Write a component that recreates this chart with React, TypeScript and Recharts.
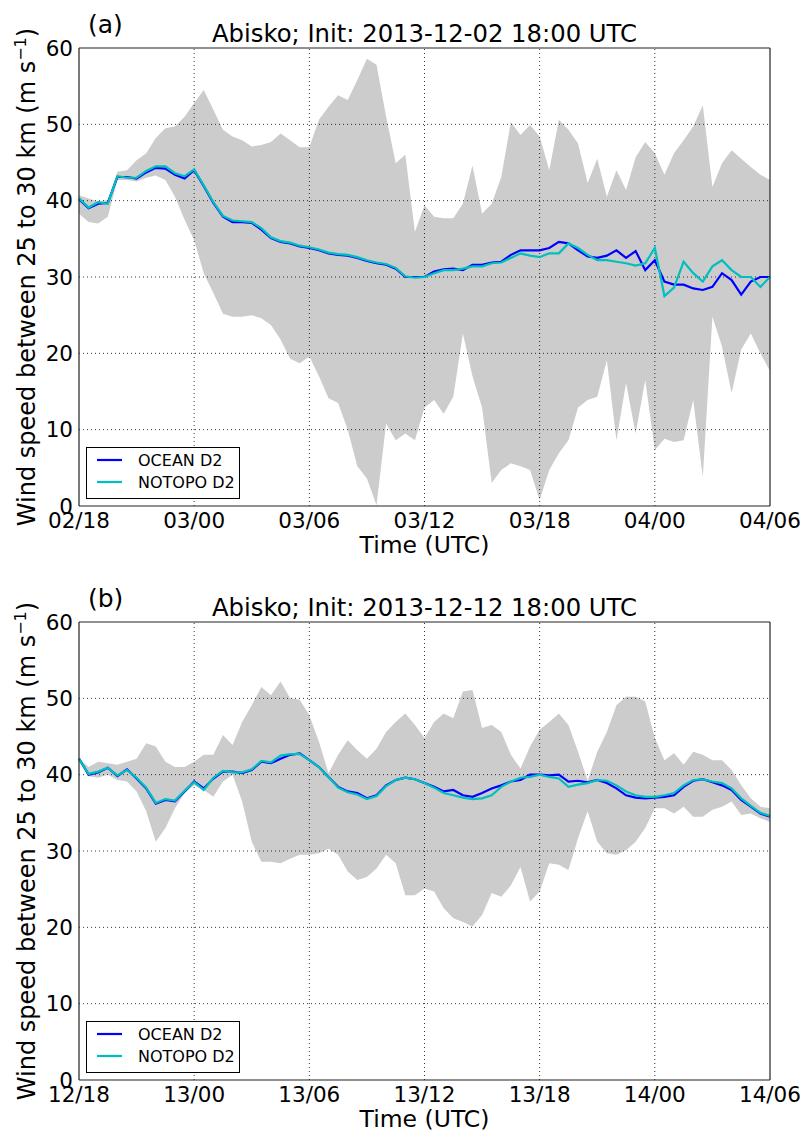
import React from 'react';
import { ComposedChart, Area, Line, XAxis, YAxis, ReferenceLine } from 'recharts';

// Wind speed averaged between 25 and 30 km over Abisko, two forecast runs.
// All series are sampled every half hour from the start of the window (36 h).
const STEP_HOURS = 0.5;

// ---- Panel (a): init 2013-12-02 18:00 UTC ----
const TICKS_A = ['02/18', '03/00', '03/06', '03/12', '03/18', '04/00', '04/06'];

const UPPER_A = [
  40.7, 40.3, 39.9, 40.1, 43.8, 44.0, 45.3, 46.2, 48.2, 49.5, 49.7, 51.0,
  52.8, 54.5, 51.9, 49.3, 48.4, 47.9, 47.1, 47.3, 47.7, 48.8, 47.9, 47.0,
  47.0, 50.6, 52.3, 53.8, 53.2, 55.8, 58.6, 57.8, 51.0, 44.9, 46.0, 35.9,
  39.4, 37.9, 37.7, 37.7, 39.6, 44.6, 38.3, 39.6, 43.1, 50.3, 48.6, 49.9,
  48.4, 44.0, 50.6, 49.3, 47.5, 42.3, 45.5, 40.5, 44.0, 41.4, 45.7, 47.7,
  46.2, 43.4, 46.2, 47.9, 49.7, 52.5, 41.8, 44.9, 46.6, 45.5, 44.4, 43.4,
  42.7,
];

const LOWER_A = [
  38.3, 37.2, 37.0, 37.9, 42.7, 42.7, 42.5, 43.0, 43.3, 42.7, 40.5, 37.5,
  34.8, 30.5, 27.9, 25.2, 24.8, 24.8, 25.0, 24.6, 23.7, 21.8, 19.3, 18.7,
  19.6, 17.0, 14.1, 13.5, 10.0, 5.2, 3.6, 0.1, 10.8, 8.6, 9.5, 8.6,
  12.9, 13.9, 12.1, 14.3, 22.6, 17.0, 12.9, 3.0, 4.7, 5.6, 5.2, 4.7,
  0.8, 4.7, 6.9, 8.6, 12.9, 13.9, 14.3, 19.1, 8.6, 16.1, 9.5, 16.5,
  7.3, 8.8, 8.4, 8.6, 13.9, 3.8, 24.8, 20.9, 14.8, 20.5, 22.6, 20.0,
  17.7,
];

const OCEAN_A = [
  40.2, 39.0, 39.6, 39.7, 43.1, 43.1, 42.9, 43.7, 44.3, 44.2, 43.4, 42.9,
  44.0, 41.9, 39.7, 37.9, 37.2, 37.2, 37.1, 36.2, 35.1, 34.6, 34.4, 34.0,
  33.8, 33.5, 33.1, 32.9, 32.8, 32.5, 32.1, 31.8, 31.6, 31.1, 30.0, 30.0,
  30.0, 30.7, 31.0, 31.1, 30.9, 31.6, 31.6, 31.9, 32.0, 32.9, 33.5, 33.5,
  33.5, 33.8, 34.6, 34.4, 33.5, 32.7, 32.5, 32.8, 33.5, 32.5, 33.4, 30.9,
  32.2, 29.4, 29.0, 29.0, 28.5, 28.3, 28.7, 30.5, 29.6, 27.7, 29.4, 30.0,
  30.0,
];

const NOTOPO_A = [
  40.3, 39.1, 39.8, 39.6, 43.2, 43.0, 43.0, 43.9, 44.5, 44.5, 43.6, 43.2,
  44.1, 42.0, 39.8, 38.0, 37.4, 37.3, 37.2, 36.4, 35.2, 34.7, 34.5, 34.1,
  33.9, 33.6, 33.2, 33.0, 32.9, 32.6, 32.2, 31.9, 31.7, 31.2, 30.1, 29.9,
  30.0, 30.5, 30.9, 30.9, 31.1, 31.4, 31.4, 31.8, 31.9, 32.5, 33.1, 32.8,
  32.6, 33.1, 33.1, 34.4, 33.8, 32.9, 32.2, 32.2, 32.0, 31.8, 31.5, 31.8,
  33.8, 27.5, 28.6, 32.0, 30.5, 29.4, 31.4, 32.2, 30.9, 30.0, 30.0, 28.7,
  30.0,
];

// ---- Panel (b): init 2013-12-12 18:00 UTC ----
const TICKS_B = ['12/18', '13/00', '13/06', '13/12', '13/18', '14/00', '14/06'];

const UPPER_B = [
  42.1, 41.0, 41.7, 41.5, 41.3, 41.7, 42.1, 44.1, 43.7, 41.7, 41.0, 41.0,
  41.7, 42.6, 42.6, 45.2, 43.9, 46.9, 49.1, 51.5, 50.4, 52.2, 50.0, 49.8,
  47.8, 44.3, 40.2, 42.6, 44.5, 43.2, 42.1, 43.4, 45.6, 46.9, 48.0, 46.5,
  44.8, 46.9, 48.0, 47.4, 50.9, 51.1, 46.1, 46.5, 45.6, 42.6, 40.8, 43.7,
  45.9, 46.9, 48.0, 46.5, 43.0, 39.2, 43.0, 45.6, 49.1, 50.2, 50.2, 49.6,
  44.8, 41.9, 42.8, 41.3, 43.0, 42.6, 41.9, 41.9, 40.6, 38.6, 36.9, 35.8,
  35.6,
];

const LOWER_B = [
  42.1, 39.8, 39.6, 40.0, 39.3, 39.1, 37.8, 35.2, 31.2, 33.0, 35.6, 37.6,
  38.6, 38.0, 37.1, 39.1, 40.0, 36.5, 31.2, 28.6, 28.6, 28.4, 29.0, 29.5,
  29.5, 29.7, 30.3, 29.5, 27.3, 26.2, 26.6, 27.7, 29.5, 28.4, 24.2, 24.2,
  25.1, 24.7, 22.5, 21.2, 20.7, 20.1, 21.6, 24.5, 24.0, 25.5, 27.9, 23.4,
  24.7, 28.4, 28.2, 27.5, 31.7, 35.2, 31.2, 29.7, 29.5, 30.1, 31.2, 33.0,
  35.6, 35.6, 34.9, 35.8, 34.5, 34.5, 35.4, 35.8, 36.5, 34.7, 34.9, 34.3,
  33.8,
];

const OCEAN_B = [
  42.1, 40.0, 40.3, 40.9, 39.8, 40.7, 39.5, 38.2, 36.2, 36.7, 36.5, 37.8,
  39.1, 38.2, 39.5, 40.4, 40.4, 40.2, 40.6, 41.7, 41.5, 42.1, 42.6, 42.8,
  41.9, 41.0, 39.7, 38.4, 37.8, 37.6, 36.9, 37.3, 38.6, 39.3, 39.6, 39.4,
  38.9, 38.4, 37.8, 38.0, 37.3, 37.1, 37.6, 38.2, 38.6, 39.1, 39.3, 40.0,
  40.0, 39.9, 40.0, 39.1, 39.2, 39.0, 39.3, 38.9, 38.2, 37.3, 37.0, 36.9,
  37.0, 37.1, 37.3, 38.4, 39.2, 39.4, 39.0, 38.6, 38.0, 36.7, 35.8, 34.9,
  34.5,
];

const NOTOPO_B = [
  42.1, 40.1, 40.4, 40.9, 39.9, 40.6, 39.6, 38.3, 36.3, 36.8, 36.6, 37.9,
  39.0, 38.0, 39.6, 40.5, 40.3, 40.3, 40.7, 41.8, 41.6, 42.5, 42.7, 42.7,
  41.9, 41.0, 39.7, 38.3, 37.7, 37.4, 36.8, 37.2, 38.5, 39.3, 39.6, 39.4,
  38.9, 38.3, 37.6, 37.3, 37.0, 36.8, 36.9, 37.3, 38.4, 39.1, 39.6, 39.7,
  40.0, 39.7, 39.5, 38.4, 38.7, 38.9, 39.3, 39.2, 38.6, 37.8, 37.3, 37.1,
  37.1, 37.3, 37.6, 38.6, 39.3, 39.4, 39.1, 38.9, 38.2, 36.9, 35.9, 35.0,
  34.6,
];

// ---- Shared axis settings ----
const TICK_HOURS = [0, 6, 12, 18, 24, 30, 36];
const Y_TICKS = [0, 10, 20, 30, 40, 50, 60];
const GRID_HOURS = [6, 12, 18, 24, 30];
const GRID_SPEEDS = [10, 20, 30, 40, 50];
const SERIES_NAMES = ['OCEAN D2', 'NOTOPO D2'];

const FONT = '"DejaVu Sans", Verdana, sans-serif';
const BLUE = '#0000ff';
const CYAN = '#00bfbf';
const BAND = '#cccccc';
const FRAME = '#222222';

const W = 804;
const H = 567;
const PLOT_LEFT = 79;
const PLOT_RIGHT = 770;
const PLOT_HEIGHT = 458;
const Y_AXIS_W = 60;
const X_AXIS_H = 40;
const EDGE = 1;

type Row = { t: number; band: [number, number]; ocean: number; notopo: number };

function buildRows(lower: number[], upper: number[], ocean: number[], notopo: number[]): Row[] {
  return ocean.map((v, i) => ({
    t: i * STEP_HOURS,
    band: [lower[i], upper[i]],
    ocean: v,
    notopo: notopo[i],
  }));
}

type PanelProps = {
  tag: string;
  title: string;
  tickLabels: string[];
  rows: Row[];
  plotTop: number;
  top: number;
};

function Panel({ tag, title, tickLabels, rows, plotTop, top }: PanelProps) {
  const plotBottom = plotTop + PLOT_HEIGHT;
  const midX = (PLOT_LEFT + PLOT_RIGHT) / 2;
  const midY = (plotTop + plotBottom) / 2;
  const legendTop = plotBottom - 59;
  const tickStyle = { fill: '#000', fontSize: 21.5, fontFamily: FONT };
  const gridProps = { stroke: '#000', strokeWidth: 0.8, strokeDasharray: '1 3' };
  const frameLine = { stroke: FRAME, strokeWidth: 1.2 };

  return (
    <div style={{ position: 'absolute', left: 0, top, width: W, height: H }}>
      <ComposedChart
        width={W}
        height={H}
        data={rows}
        margin={{
          top: plotTop - EDGE,
          bottom: H - plotBottom - X_AXIS_H,
          left: PLOT_LEFT - Y_AXIS_W,
          right: W - PLOT_RIGHT - EDGE,
        }}
      >
        <XAxis
          dataKey="t"
          type="number"
          domain={[0, 36]}
          ticks={TICK_HOURS}
          interval={0}
          tickFormatter={(v: number) => tickLabels[TICK_HOURS.indexOf(v)]}
          tick={tickStyle}
          tickLine={false}
          tickSize={0}
          tickMargin={7}
          height={X_AXIS_H}
          axisLine={frameLine}
        />
        <XAxis
          xAxisId="top"
          orientation="top"
          type="number"
          domain={[0, 36]}
          tick={false}
          tickLine={false}
          height={EDGE}
          axisLine={frameLine}
        />
        <YAxis
          type="number"
          domain={[0, 60]}
          ticks={Y_TICKS}
          interval={0}
          tick={tickStyle}
          tickLine={false}
          tickSize={0}
          tickMargin={6}
          width={Y_AXIS_W}
          axisLine={frameLine}
        />
        <YAxis
          yAxisId="right"
          orientation="right"
          type="number"
          domain={[0, 60]}
          tick={false}
          tickLine={false}
          width={EDGE}
          axisLine={frameLine}
        />
        <Area
          dataKey="band"
          type="linear"
          fill={BAND}
          fillOpacity={1}
          stroke="none"
          isAnimationActive={false}
        />
        {GRID_HOURS.map((h) => (
          <ReferenceLine key={`gx${h}`} x={h} {...gridProps} />
        ))}
        {GRID_SPEEDS.map((s) => (
          <ReferenceLine key={`gy${s}`} y={s} {...gridProps} />
        ))}
        <Line
          dataKey="ocean"
          name={SERIES_NAMES[0]}
          type="linear"
          stroke={BLUE}
          strokeWidth={2.2}
          dot={false}
          isAnimationActive={false}
        />
        <Line
          dataKey="notopo"
          name={SERIES_NAMES[1]}
          type="linear"
          stroke={CYAN}
          strokeWidth={2.2}
          dot={false}
          isAnimationActive={false}
        />
      </ComposedChart>

      <svg
        width={W}
        height={H}
        style={{ position: 'absolute', left: 0, top: 0, pointerEvents: 'none' }}
        fontFamily={FONT}
      >
        <text x={88} y={plotTop - 15} fontSize={25} fill="#000">
          {tag}
        </text>
        <text x={midX} y={plotTop - 6} fontSize={24.3} textAnchor="middle" fill="#000">
          {title}
        </text>
        <text
          x={35}
          y={midY}
          fontSize={24}
          textAnchor="middle"
          fill="#000"
          transform={`rotate(-90 35 ${midY})`}
        >
          Wind speed between 25 to 30 km (m s
          <tspan dy={-9} fontSize={16}>
            −1
          </tspan>
          <tspan dy={9}>)</tspan>
        </text>
        <text x={midX} y={plotBottom + 47} fontSize={23.5} textAnchor="middle" fill="#000">
          Time (UTC)
        </text>

        <rect x={86.5} y={legendTop + 0.5} width={153} height={51} fill="#fff" stroke="#000" strokeWidth={1} />
        <line x1={97} x2={122} y1={legendTop + 13} y2={legendTop + 13} stroke={BLUE} strokeWidth={2.2} />
        <line x1={97} x2={122} y1={legendTop + 35} y2={legendTop + 35} stroke={CYAN} strokeWidth={2.2} />
        <text x={138} y={legendTop + 19} fontSize={16} fill="#000">
          {SERIES_NAMES[0]}
        </text>
        <text x={138} y={legendTop + 41} fontSize={16} fill="#000">
          {SERIES_NAMES[1]}
        </text>
      </svg>
    </div>
  );
}

export default function App() {
  const rowsA = buildRows(LOWER_A, UPPER_A, OCEAN_A, NOTOPO_A);
  const rowsB = buildRows(LOWER_B, UPPER_B, OCEAN_B, NOTOPO_B);
  return (
    <div style={{ position: 'absolute', left: 0, top: 0, width: W, height: 2 * H, background: '#fff' }}>
      <Panel
        tag="(a)"
        title="Abisko; Init: 2013-12-02 18:00 UTC"
        tickLabels={TICKS_A}
        rows={rowsA}
        plotTop={48}
        top={0}
      />
      <Panel
        tag="(b)"
        title="Abisko; Init: 2013-12-12 18:00 UTC"
        tickLabels={TICKS_B}
        rows={rowsB}
        plotTop={55}
        top={H}
      />
    </div>
  );
}
